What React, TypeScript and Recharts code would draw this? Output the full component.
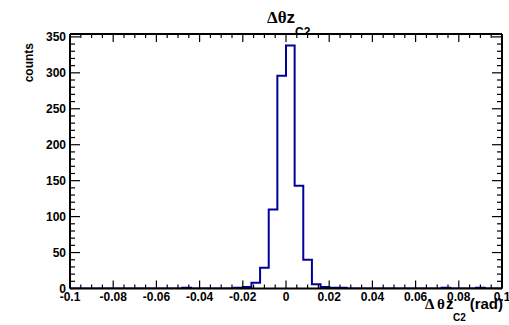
import React from 'react';
import { ComposedChart, Line, XAxis, YAxis } from 'recharts';

const binEdges = [
  -0.1, -0.096, -0.092, -0.088, -0.084, -0.08, -0.076, -0.072, -0.068, -0.064,
  -0.06, -0.056, -0.052, -0.048, -0.044, -0.04, -0.036, -0.032, -0.028, -0.024,
  -0.02, -0.016, -0.012, -0.008, -0.004, 0, 0.004, 0.008, 0.012, 0.016,
  0.02, 0.024, 0.028, 0.032, 0.036, 0.04, 0.044, 0.048, 0.052, 0.056,
  0.06, 0.064, 0.068, 0.072, 0.076, 0.08, 0.084, 0.088, 0.092, 0.096, 0.1,
];

const binCounts = [
  0, 0, 0, 0, 0, 0, 0, 0, 0, 0,
  0, 0, 0, 1, 0, 0, 0, 0, 0, 1,
  2, 8, 29, 110, 296, 338, 143, 40, 6, 2,
  1, 1, 0, 0, 0, 0, 0, 0, 0, 0,
  0, 0, 0, 1, 0, 0, 0, 1, 0, 0,
];

const xMajorTicks = [-0.1, -0.08, -0.06, -0.04, -0.02, 0, 0.02, 0.04, 0.06, 0.08, 0.1];
const xTickLabels = ['-0.1', '-0.08', '-0.06', '-0.04', '-0.02', '0', '0.02', '0.04', '0.06', '0.08', '0.1'];
const xMinorTicks = [
  -0.095, -0.09, -0.085, -0.075, -0.07, -0.065, -0.055, -0.05, -0.045, -0.035,
  -0.03, -0.025, -0.015, -0.01, -0.005, 0.005, 0.01, 0.015, 0.025, 0.03,
  0.035, 0.045, 0.05, 0.055, 0.065, 0.07, 0.075, 0.085, 0.09, 0.095,
];

const yMajorTicks = [0, 50, 100, 150, 200, 250, 300, 350];
const yTickLabels = ['0', '50', '100', '150', '200', '250', '300', '350'];
const yMinorTicks = [
  10, 20, 30, 40, 60, 70, 80, 90, 110, 120, 130, 140, 160, 170, 180, 190,
  210, 220, 230, 240, 260, 270, 280, 290, 310, 320, 330, 340,
];

const xDomain: [number, number] = [-0.1, 0.1];
const yDomain: [number, number] = [0, 354];

const data = binEdges.map((x, i) => ({
  x,
  count: i < binCounts.length ? binCounts[i] : binCounts[binCounts.length - 1],
}));

const allXTicks = [...xMajorTicks, ...xMinorTicks].sort((a, b) => a - b);
const allYTicks = [...yMajorTicks, ...yMinorTicks].sort((a, b) => a - b);

const SANS = "'Liberation Sans', Arial, Helvetica, sans-serif";
const SERIF = "'Liberation Serif', 'Times New Roman', serif";

const XTickBottom = (p: any) => {
  const { x, y, payload } = p;
  const i = xMajorTicks.indexOf(payload.value);
  const major = i >= 0;
  return (
    <g>
      <line x1={x} x2={x} y1={y} y2={y - (major ? 8 : 4)} stroke="#000" strokeWidth={1.2} />
      {major && (
        <text x={x} y={y + 12} textAnchor="middle" fontFamily={SANS} fontWeight="bold" fontSize={12} fill="#000">
          {xTickLabels[i]}
        </text>
      )}
    </g>
  );
};

const XTickTop = (p: any) => {
  const { x, y, payload } = p;
  const major = xMajorTicks.indexOf(payload.value) >= 0;
  return <line x1={x} x2={x} y1={y} y2={y + (major ? 8 : 4)} stroke="#000" strokeWidth={1.2} />;
};

const YTickLeft = (p: any) => {
  const { x, y, payload } = p;
  const i = yMajorTicks.indexOf(payload.value);
  const major = i >= 0;
  return (
    <g>
      <line x1={x} x2={x + (major ? 10 : 5)} y1={y} y2={y} stroke="#000" strokeWidth={1.2} />
      {major && (
        <text x={x - 4} y={y + 4} textAnchor="end" fontFamily={SANS} fontWeight="bold" fontSize={12} fill="#000">
          {yTickLabels[i]}
        </text>
      )}
    </g>
  );
};

const YTickRight = (p: any) => {
  const { x, y, payload } = p;
  const major = yMajorTicks.indexOf(payload.value) >= 0;
  return <line x1={x} x2={x - (major ? 10 : 5)} y1={y} y2={y} stroke="#000" strokeWidth={1.2} />;
};

export default function App() {
  return (
    <div style={{ position: 'absolute', left: 0, top: 0, width: 509, height: 325, background: '#fff' }}>
      <ComposedChart
        width={509}
        height={325}
        data={data}
        margin={{ top: 33, right: 6, bottom: 35.5, left: 69 }}
      >
        <XAxis
          dataKey="x"
          type="number"
          domain={xDomain}
          ticks={allXTicks}
          interval={0}
          height={1}
          tickSize={0}
          tickMargin={0}
          tickLine={false}
          tick={XTickBottom}
          axisLine={{ stroke: '#000', strokeWidth: 2 }}
          allowDataOverflow
        />
        <XAxis
          xAxisId="top"
          orientation="top"
          dataKey="x"
          type="number"
          domain={xDomain}
          ticks={allXTicks}
          interval={0}
          height={1}
          tickSize={0}
          tickMargin={0}
          tickLine={false}
          tick={XTickTop}
          axisLine={{ stroke: '#000', strokeWidth: 2 }}
          allowDataOverflow
        />
        <YAxis
          type="number"
          domain={yDomain}
          ticks={allYTicks}
          interval={0}
          width={1}
          tickSize={0}
          tickMargin={0}
          tickLine={false}
          tick={YTickLeft}
          axisLine={{ stroke: '#000', strokeWidth: 2 }}
          allowDataOverflow
        />
        <YAxis
          yAxisId="right"
          orientation="right"
          type="number"
          domain={yDomain}
          ticks={allYTicks}
          interval={0}
          width={1}
          tickSize={0}
          tickMargin={0}
          tickLine={false}
          tick={YTickRight}
          axisLine={{ stroke: '#000', strokeWidth: 2 }}
          allowDataOverflow
        />
        <Line
          dataKey="count"
          type="stepAfter"
          stroke="#00009a"
          strokeWidth={2}
          dot={false}
          activeDot={false}
          isAnimationActive={false}
        />
      </ComposedChart>
      <svg
        width={509}
        height={33}
        style={{ position: 'absolute', left: 0, top: 0, pointerEvents: 'none' }}
      >
        <text x={267} y={23} fontSize={17} fontWeight="bold" fill="#000">
          <tspan fontFamily={SERIF}>Δθ</tspan>
          <tspan fontFamily={SANS}>z</tspan>
          <tspan fontFamily={SANS} fontSize={12} dy={13}>C2</tspan>
        </text>
      </svg>
      <svg
        width={509}
        height={325}
        style={{ position: 'absolute', left: 0, top: 0, pointerEvents: 'none' }}
      >
        <text
          transform="translate(32.5,43) rotate(-90)"
          textAnchor="end"
          fontFamily={SANS}
          fontWeight="bold"
          fontSize={12}
          fill="#000"
        >
          counts
        </text>
        <text x={425} y={309} fontFamily={SERIF} fontWeight="bold" fontSize={15} fill="#000">Δ</text>
        <text x={437} y={309} fontFamily={SERIF} fontWeight="bold" fontSize={15} fill="#000">θ</text>
        <text x={446} y={309} fontFamily={SANS} fontWeight="bold" fontSize={15} fill="#000">z</text>
        <text x={453} y={321} fontFamily={SANS} fontWeight="bold" fontSize={10} fill="#000">C2</text>
        <text x={503} y={309} textAnchor="end" fontFamily={SANS} fontWeight="bold" fontSize={15} fill="#000">(rad)</text>
      </svg>
    </div>
  );
}
